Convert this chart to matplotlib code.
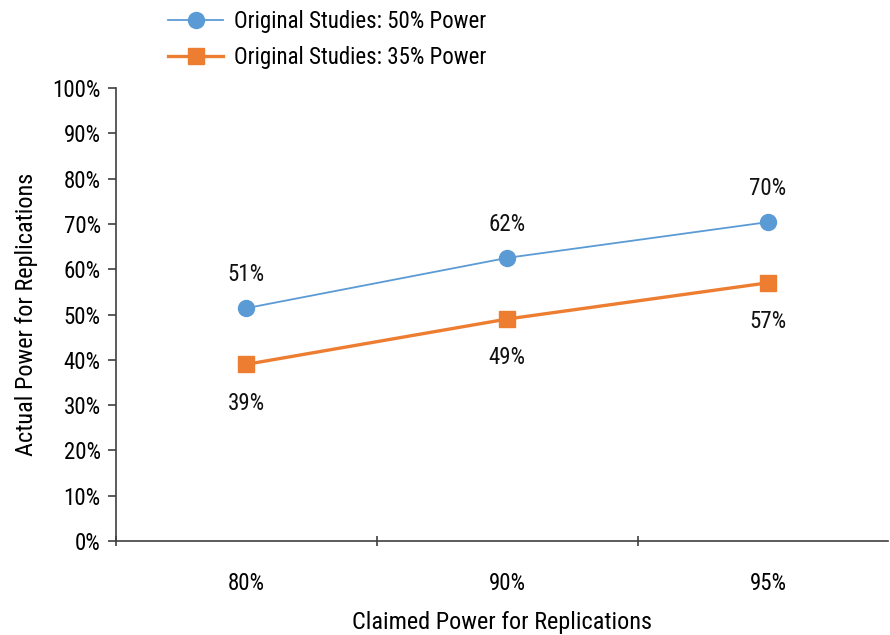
import matplotlib
matplotlib.use("Agg")
import matplotlib.pyplot as plt
from matplotlib import font_manager
from matplotlib.ticker import FuncFormatter

names = {f.name for f in font_manager.fontManager.ttflist}
fam = "Liberation Sans Narrow" if "Liberation Sans Narrow" in names else "Roboto Condensed" if "Roboto Condensed" in names else "Liberation Sans"
plt.rcParams['font.family'] = [fam, 'DejaVu Sans']

categories = ["80%", "90%", "95%"]
series_names = ["Original Studies: 50% Power", "Original Studies: 35% Power"]
power50 = [0.514, 0.625, 0.704]
power35 = [0.390, 0.490, 0.570]
labels50 = ["51%", "62%", "70%"]
labels35 = ["39%", "49%", "57%"]

blue = "#5B9BD5"
orange = "#ED7D31"
axcol = "#404040"
FS = 16.5

fig = plt.figure(figsize=(8.9, 6.35), dpi=100)
ax = fig.add_axes([116/890, 1-541/635, (888-116)/890, (541-88)/635])

x = list(range(len(categories)))
l1, = ax.plot(x, power50, color=blue, lw=1.3, marker='o', ms=11.5,
              label=series_names[0], zorder=3)
l2, = ax.plot(x, power35, color=orange, lw=2.4, marker='s', ms=11.5,
              label=series_names[1], zorder=3)

for xi, v, t in zip(x, power50, labels50):
    ax.annotate(t, (xi, v), xytext=(0, 24), textcoords='offset points',
                ha='center', va='center', fontsize=FS, color='#111111')
for xi, v, t in zip(x, power35, labels35):
    ax.annotate(t, (xi, v), xytext=(0, -28), textcoords='offset points',
                ha='center', va='center', fontsize=FS, color='#111111')

ax.set_ylim(0, 1)
ax.set_yticks([i/10 for i in range(11)])
ax.yaxis.set_major_formatter(FuncFormatter(lambda v, p: f"{round(v*100)}%"))
ax.set_xticks([-0.5, 0.5, 1.5, 2.5])
ax.set_xticklabels([])
ax.set_xticks(x, minor=True)
ax.set_xticklabels(categories, minor=True)
ax.set_xlim(-0.5, 2.46)
ax.tick_params(axis='x', which='minor', length=0, pad=22, labelsize=FS)
ax.tick_params(axis='x', which='major', length=7, width=1.2, color=axcol, direction='inout')
ax.tick_params(axis='y', length=6, width=1.2, color=axcol, labelsize=FS, pad=5, direction='out')

for s in ['top', 'right']:
    ax.spines[s].set_visible(False)
for s in ['left', 'bottom']:
    ax.spines[s].set_color(axcol)
    ax.spines[s].set_linewidth(1.2)

ax.set_ylabel("Actual Power for Replications", fontsize=17.5, labelpad=10)
ax.set_xlabel("Claimed Power for Replications", fontsize=17.5, labelpad=12)

fig.legend(handles=[l1, l2], loc='upper left', bbox_to_anchor=(150/890, 1+8/635),
           frameon=False, fontsize=FS, handlelength=2.4, handletextpad=0.45,
           labelspacing=0.55, borderpad=0.3)

fig.savefig("out.png", dpi=100)
